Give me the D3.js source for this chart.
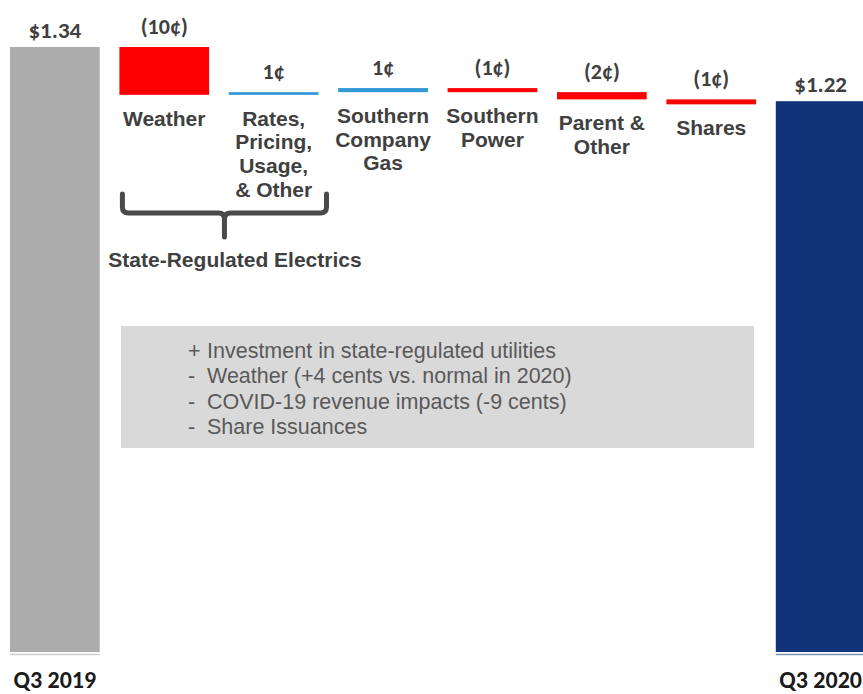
<!DOCTYPE html>
<html>
<head>
<meta charset="utf-8">
<script src="https://cdn.jsdelivr.net/npm/d3@7"></script>
<style>
  html, body { margin: 0; padding: 0; background: #ffffff; }
  svg { display: block; }
</style>
</head>
<body>
<svg id="chart" width="863" height="694"></svg>
<script>
// ---------- data ----------
const categories = ["Q3 2019", "Weather", "Rates", "Southern Company Gas", "Southern Power", "Parent & Other", "Shares", "Q3 2020"];
const startValue = 1.34;
const endValue = 1.22;
const totalLabels = ["$1.34", "$1.22"];
const stepValues = [-0.106, 0.006, 0.009, -0.009, -0.016, -0.011];
const stepLabels = ["(10¢)", "1¢", "1¢", "(1¢)", "(2¢)", "(1¢)"];
const stepLines = [
  ["Weather"],
  ["Rates,", "Pricing,", "Usage,", "& Other"],
  ["Southern", "Company", "Gas"],
  ["Southern", "Power"],
  ["Parent &", "Other"],
  ["Shares"]
];
const bracketLabel = "State-Regulated Electrics";
const noteSymbols = ["+", "-", "-", "-"];
const noteTexts = [
  "Investment in state-regulated utilities",
  "Weather (+4 cents vs. normal in 2020)",
  "COVID-19 revenue impacts (-9 cents)",
  "Share Issuances"
];

// ---------- layout ----------
const svg = d3.select("#chart");
const labelFont = "Carlito, Lato, 'DejaVu Sans', sans-serif";
const textFont = "'Liberation Sans', Arial, sans-serif";
const dark = "#404040";

const x = d3.scaleBand().domain(categories).range([10, 865.5]).paddingInner(0.18).paddingOuter(0);
const y = d3.scaleLinear().domain([0, 1.34]).range([652, 47]);

// running totals for the waterfall
let run = startValue;
const steps = stepValues.map((v, i) => {
  const a = run, b = run + v;
  run = b;
  return { cat: categories[i + 1], from: a, to: b, v, label: stepLabels[i], lines: stepLines[i] };
});
const totals = [
  { cat: categories[0], value: startValue, label: totalLabels[0], color: "#acacac", base: "#cfcfcf" },
  { cat: categories[7], value: endValue, label: totalLabels[1], color: "#11337a", base: "#7d8fb5" }
];

// total bars
svg.selectAll("rect.total").data(totals).join("rect")
  .attr("class", "total")
  .attr("x", d => x(d.cat))
  .attr("y", d => y(d.value))
  .attr("width", x.bandwidth())
  .attr("height", d => y(0) - y(d.value))
  .attr("fill", d => d.color);

svg.selectAll("line.base").data(totals).join("line")
  .attr("class", "base")
  .attr("x1", d => x(d.cat)).attr("x2", d => x(d.cat) + x.bandwidth())
  .attr("y1", y(0) + 2.5).attr("y2", y(0) + 2.5)
  .attr("stroke", d => d.base).attr("stroke-width", 1.5);

svg.selectAll("text.totalLabel").data(totals).join("text")
  .attr("class", "totalLabel")
  .attr("x", d => x(d.cat) + x.bandwidth() / 2)
  .attr("y", d => y(d.value) - 9)
  .attr("text-anchor", "middle")
  .attr("font-family", labelFont).attr("font-weight", 700).attr("font-size", 23)
  .attr("fill", dark)
  .text(d => d.label);

svg.selectAll("text.axisLabel").data(totals).join("text")
  .attr("class", "axisLabel")
  .attr("x", d => x(d.cat) + x.bandwidth() / 2)
  .attr("y", 688)
  .attr("text-anchor", "middle")
  .attr("font-family", labelFont).attr("font-weight", 700).attr("font-size", 24)
  .attr("fill", "#1a1a1a")
  .text(d => d.cat);

// step bars
const stepColor = d => d.v < 0 ? "#ff0000" : "#3298d6";
svg.selectAll("rect.step").data(steps).join("rect")
  .attr("class", "step")
  .attr("x", d => x(d.cat))
  .attr("y", d => y(Math.max(d.from, d.to)))
  .attr("width", x.bandwidth())
  .attr("height", d => Math.abs(y(d.from) - y(d.to)))
  .attr("fill", stepColor);

svg.selectAll("text.stepLabel").data(steps).join("text")
  .attr("class", "stepLabel")
  .attr("x", d => x(d.cat) + x.bandwidth() / 2)
  .attr("y", d => y(Math.max(d.from, d.to)) - 13)
  .attr("text-anchor", "middle")
  .attr("font-family", labelFont).attr("font-weight", 700).attr("font-size", 22)
  .attr("fill", dark)
  .text(d => d.label);

const catText = svg.selectAll("text.cat").data(steps).join("text")
  .attr("class", "cat")
  .attr("text-anchor", "middle")
  .attr("font-family", textFont).attr("font-weight", 700).attr("font-size", 21)
  .attr("fill", dark);
catText.each(function(d) {
  const cx = x(d.cat) + x.bandwidth() / 2;
  const y0 = y(Math.min(d.from, d.to)) + 31;
  d3.select(this).selectAll("tspan").data(d.lines).join("tspan")
    .attr("x", cx)
    .attr("y", (t, i) => y0 + i * 23.6)
    .text(t => t);
});

// bracket for State-Regulated Electrics
const bx0 = x("Weather") + 3;
const bx1 = x("Rates") + x.bandwidth() + 8;
const bmid = (bx0 + bx1) / 2;
const bTop = 194, bH = 213, bBot = 237, r = 6;
const bp = d3.path();
bp.moveTo(bx0, bTop);
bp.lineTo(bx0, bH - r);
bp.quadraticCurveTo(bx0, bH, bx0 + r, bH);
bp.lineTo(bmid - r, bH);
bp.quadraticCurveTo(bmid, bH, bmid, bH + r);
bp.lineTo(bmid, bBot);
bp.moveTo(bx1, bTop);
bp.lineTo(bx1, bH - r);
bp.quadraticCurveTo(bx1, bH, bx1 - r, bH);
bp.lineTo(bmid + r, bH);
bp.quadraticCurveTo(bmid, bH, bmid, bH + r);
svg.append("path")
  .attr("d", bp.toString())
  .attr("fill", "none")
  .attr("stroke", "#4a4a4a")
  .attr("stroke-width", 5)
  .attr("stroke-linecap", "round")
  .attr("stroke-linejoin", "round");

svg.append("text")
  .attr("x", 235).attr("y", 267)
  .attr("text-anchor", "middle")
  .attr("font-family", textFont).attr("font-weight", 700).attr("font-size", 21)
  .attr("fill", dark)
  .text(bracketLabel);

// notes box
svg.append("rect")
  .attr("x", 121).attr("y", 326)
  .attr("width", 633).attr("height", 122)
  .attr("fill", "#d9d9d9");

const notes = svg.append("g")
  .attr("font-family", textFont).attr("font-size", 21.5).attr("fill", "#595959");
noteTexts.forEach((t, i) => {
  const yy = 358 + i * 25.3;
  notes.append("text").attr("x", 188).attr("y", yy).text(noteSymbols[i]);
  notes.append("text").attr("x", 207).attr("y", yy).text(t);
});
</script>
</body>
</html>
